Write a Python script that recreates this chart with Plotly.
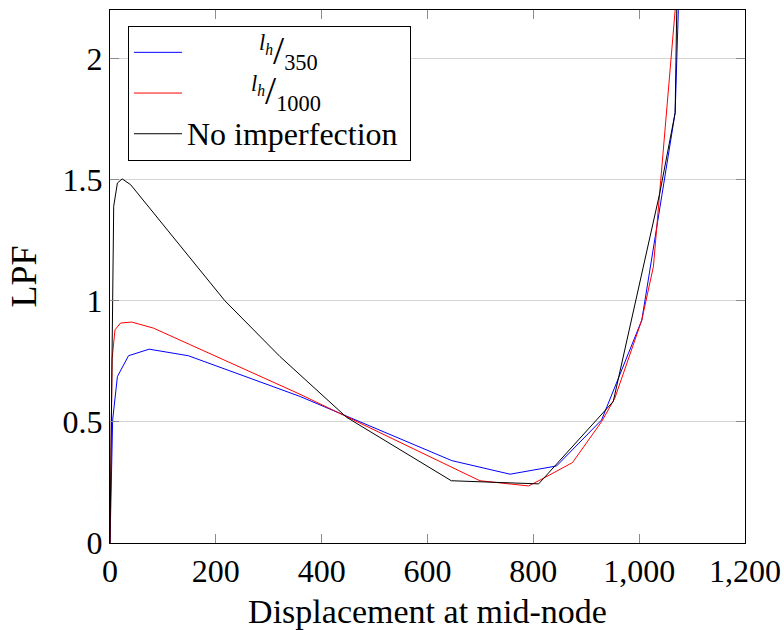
import plotly.graph_objects as go

# Load proportionality factor vs. mid-node displacement for three imperfection cases
disp_350 = [0, 5, 14, 35, 74, 148, 359, 646, 756, 844, 929, 1005, 1068, 1076]
lpf_350 = [0, 0.508, 0.687, 0.773, 0.80, 0.773, 0.605, 0.340, 0.284, 0.318, 0.508, 0.92, 1.776, 2.34]

disp_1000 = [0, 4, 9.4, 20, 41, 82, 150, 359, 699, 791, 819, 874, 929, 954, 1005, 1027, 1075]
lpf_1000 = [0, 0.76, 0.88, 0.908, 0.912, 0.887, 0.82, 0.614, 0.257, 0.2355, 0.267, 0.332, 0.501, 0.598, 0.92, 1.142, 2.38]

disp_none = [0, 7, 14, 23, 39, 217, 321, 447, 645, 810, 951, 1039, 1068, 1074]
lpf_none = [0, 1.39, 1.486, 1.503, 1.479, 1.0, 0.77, 0.519, 0.257, 0.244, 0.584, 1.445, 1.776, 2.62]

x_ticks = [0, 200, 400, 600, 800, 1000, 1200]
y_ticks = [0, 0.5, 1, 1.5, 2]

FONT = "'Liberation Serif', 'DejaVu Serif', serif"
NB = "\u00a0"


def big(text):
    return f"<span style='font-size:32px'>{text}</span>"


def frac_label(den, pad):
    return big(NB * pad + "<sup><i>l<sub>h</sub></i></sup>"
               "<span style='font-size:40px'>/</span>"
               f"<sub>{den}</sub>")


fig = go.Figure()
fig.add_trace(go.Scatter(x=disp_350, y=lpf_350, mode="lines",
                         line=dict(color="#0000ff", width=1),
                         name=frac_label(350, 9)))
fig.add_trace(go.Scatter(x=disp_1000, y=lpf_1000, mode="lines",
                         line=dict(color="#ff0000", width=1),
                         name=frac_label(1000, 8)))
fig.add_trace(go.Scatter(x=disp_none, y=lpf_none, mode="lines",
                         line=dict(color="#000000", width=1),
                         name=big("No imperfection") + NB))

axis_common = dict(
    showline=True, linecolor="black", linewidth=1, mirror="ticks",
    ticks="inside", ticklen=9, tickcolor="#8c8c8c", tickwidth=1,
    tickfont=dict(family=FONT, size=32, color="black"),
    zeroline=False, automargin=False,
)

fig.update_xaxes(
    range=[0, 1200], tickvals=x_ticks, tickformat=",", showgrid=False,
    title=dict(text="Displacement at mid-node",
               font=dict(family=FONT, size=34, color="black"), standoff=19),
    **axis_common,
)
fig.update_yaxes(
    range=[0, 2.2], tickvals=y_ticks, showgrid=True, gridcolor="#d4d4d4", gridwidth=1,
    title=dict(text="LPF", font=dict(family=FONT, size=36, color="black"), standoff=14),
    **axis_common,
)

fig.update_layout(
    width=784, height=630,
    margin=dict(l=110, r=39, t=10, b=87),
    paper_bgcolor="white", plot_bgcolor="white",
    font=dict(family=FONT, size=32, color="black"),
    legend=dict(x=0.0283, y=0.97, xanchor="left", yanchor="top",
                bgcolor="white", bordercolor="black", borderwidth=1,
                font=dict(family=FONT, size=29, color="black"),
                itemwidth=48, tracegroupgap=0),
    showlegend=True,
)

fig.write_html("out.html")
